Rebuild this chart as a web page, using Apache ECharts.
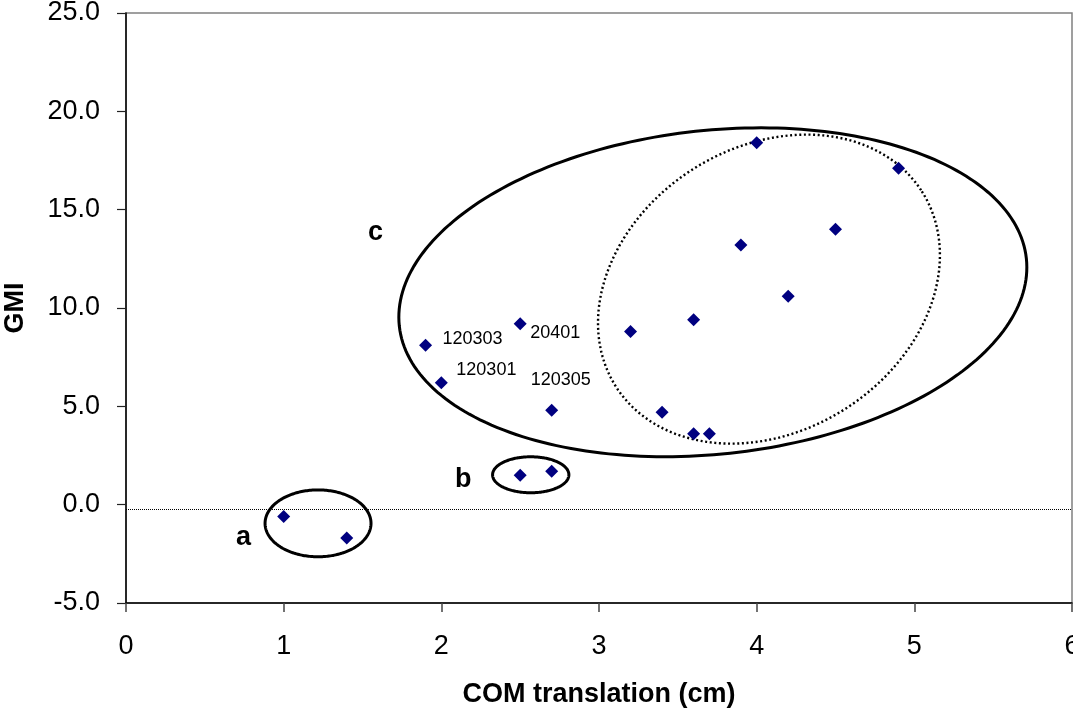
<!DOCTYPE html>
<html>
<head>
<meta charset="utf-8">
<script src="https://cdn.jsdelivr.net/npm/echarts@6/dist/echarts.min.js"></script>
<style>
html,body{margin:0;padding:0;background:#fff;}
#chart{width:1073px;height:709px;}
</style>
</head>
<body>
<div id="chart"></div>
<script>
// ---- data ----
const xValues = [1.0, 1.4, 2.5, 2.7, 1.9, 2.0, 2.5, 2.7, 3.2, 3.6, 3.9, 4.0, 4.5, 4.2, 4.9, 3.4, 3.6, 3.7];
const yValues = [-0.6, -1.7, 1.5, 1.7, 8.1, 6.2, 9.2, 4.8, 8.8, 9.4, 13.2, 18.4, 14.0, 10.6, 17.1, 4.7, 3.6, 3.6];
const pointNames = ['', '', '', '', '120303', '120301', '20401', '120305', '', '', '', '', '', '', '', '', '', ''];
const refLineY = -0.25;
const xTicks = [0, 1, 2, 3, 4, 5, 6];
const yTicks = [-5, 0, 5, 10, 15, 20, 25];
// group annotations: letter and its position in data units
const groupLetters = ['a', 'b', 'c'];
const groupLetterX = [0.746, 2.139, 1.582];
const groupLetterY = [-1.65, 1.30, 13.85];
// ellipses in data units: centre x, centre y, radius x, radius y, tilt (deg)
const ellipseA = [1.218, -0.95, 0.336, 1.70, 0];
const ellipseB = [2.567, 1.52, 0.242, 0.915, 0];
const ellipseC = [3.722, 10.80, 2.00, 8.23, 6.15];
const ellipseInner = [4.078, 10.96, 1.151, 7.22, 32.6];

// ---- styles ----
const labelOffsets = {'120303': [17, -6], '20401': [10, 9.5], '120301': [15, -13], '120305': [-21, -30]};
const ellipseStyles = [
  {lineWidth: 3, lineDash: null},
  {lineWidth: 3, lineDash: null},
  {lineWidth: 3, lineDash: null},
  {lineWidth: 2.4, lineDash: [2, 2.6]}
];
const FONT = 'Liberation Sans, Arial, sans-serif';

const chart = echarts.init(document.getElementById('chart'), null, {renderer: 'canvas'});

const scatterData = xValues.map((x, i) => {
  const item = {value: [x, yValues[i]]};
  const name = pointNames[i];
  if (name) {
    item.label = {
      show: true,
      formatter: name,
      position: 'inside',
      align: 'left',
      verticalAlign: 'middle',
      offset: labelOffsets[name],
      fontFamily: 'Liberation Sans Narrow, Arial Narrow, sans-serif',
      fontSize: 18,
      color: '#000'
    };
  }
  return item;
});

const letterData = groupLetters.map((t, i) => ({value: [groupLetterX[i], groupLetterY[i]], name: t}));
const ellipseData = [ellipseA, ellipseB, ellipseC, ellipseInner].map((e, i) => e.concat([i]));

chart.setOption({
  animation: false,
  backgroundColor: '#fff',
  grid: {left: 126, right: 1, top: 13, bottom: 106, containLabel: false, outerBoundsMode: 'none',
         show: true, borderColor: '#808080', borderWidth: 1.5, backgroundColor: 'transparent'},
  xAxis: {
    type: 'value', min: xTicks[0], max: xTicks[xTicks.length - 1], interval: 1,
    name: 'COM translation (cm)', nameLocation: 'middle', nameGap: 78,
    nameTextStyle: {fontFamily: FONT, fontWeight: 'bold', fontSize: 27, color: '#000'},
    axisLine: {show: true, onZero: false, lineStyle: {color: '#000', width: 1.5}},
    axisTick: {show: true, inside: false, length: 9, lineStyle: {color: '#444', width: 1.5}},
    axisLabel: {margin: 30, fontFamily: FONT, fontSize: 27, color: '#000'},
    splitLine: {show: false}
  },
  yAxis: {
    type: 'value', min: yTicks[0], max: yTicks[yTicks.length - 1], interval: 5,
    name: 'GMI', nameLocation: 'middle', nameGap: 97, nameRotate: 90,
    nameTextStyle: {fontFamily: FONT, fontWeight: 'bold', fontSize: 27, color: '#000'},
    axisLine: {show: true, onZero: false, lineStyle: {color: '#000', width: 1.5}},
    axisTick: {show: true, inside: false, length: 9, lineStyle: {color: '#222', width: 1.2}},
    axisLabel: {margin: 26, fontFamily: FONT, fontSize: 27, color: '#000', formatter: v => v.toFixed(1)},
    splitLine: {show: false}
  },
  series: [
    {
      type: 'custom',
      silent: true,
      z: 1,
      encode: {x: 0, y: 1},
      data: ellipseData,
      renderItem: function (params, api) {
        const c = api.coord([api.value(0), api.value(1)]);
        const s = api.size([api.value(2), api.value(3)]);
        const th = api.value(4) * Math.PI / 180;
        const st = ellipseStyles[api.value(5)];
        const pts = [];
        const n = 240;
        for (let k = 0; k < n; k++) {
          const t = k / n * 2 * Math.PI;
          const ax = s[0] * Math.cos(t), by = s[1] * Math.sin(t);
          pts.push([c[0] + ax * Math.cos(th) + by * Math.sin(th), c[1] - ax * Math.sin(th) + by * Math.cos(th)]);
        }
        return {
          type: 'polygon',
          shape: {points: pts},
          style: {fill: 'transparent', stroke: '#000', lineWidth: st.lineWidth, lineDash: st.lineDash}
        };
      }
    },
    {
      type: 'scatter',
      z: 3,
      symbol: 'diamond',
      symbolSize: 13,
      itemStyle: {color: '#000080', opacity: 1},
      data: scatterData,
      markLine: {
        silent: true, symbol: 'none', label: {show: false},
        lineStyle: {type: 'dotted', color: '#000', width: 1},
        data: [{yAxis: refLineY}]
      }
    },
    {
      type: 'scatter',
      z: 2,
      symbolSize: 0,
      silent: true,
      itemStyle: {opacity: 1},
      data: letterData,
      label: {
        show: true, position: 'inside', formatter: p => p.name,
        fontFamily: FONT, fontWeight: 'bold', fontSize: 27, color: '#000'
      }
    }
  ]
});
</script>
</body>
</html>
